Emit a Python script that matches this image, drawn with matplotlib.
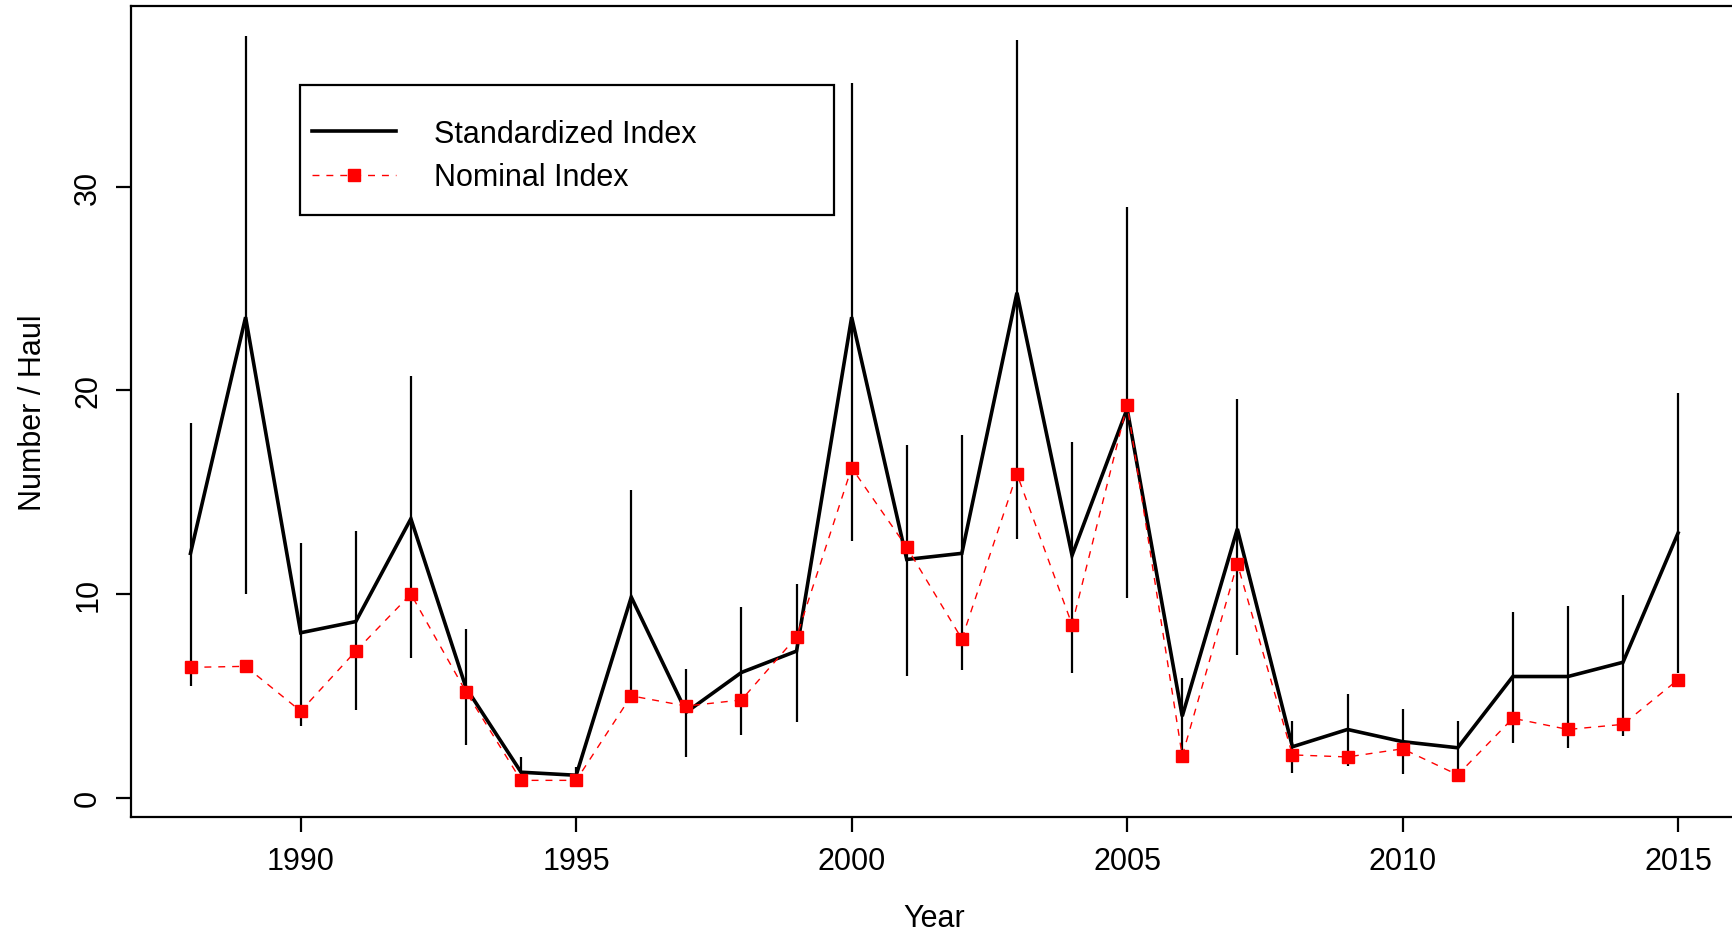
import matplotlib
matplotlib.use("Agg")
import matplotlib.pyplot as plt
from matplotlib.patches import Rectangle

plt.rcParams['font.family'] = ['Liberation Sans', 'DejaVu Sans']

# data
years = list(range(1988, 2016))
std_index = [12.0, 23.6, 8.1, 8.65, 13.7, 5.4, 1.25, 1.1, 9.85, 4.2, 6.15, 7.2, 23.6, 11.7,
             12.0, 24.8, 11.9, 19.1, 4.0, 13.2, 2.5, 3.35, 2.75, 2.45, 5.95, 5.95, 6.65, 13.0]
nom_index = [6.4, 6.45, 4.25, 7.2, 10.0, 5.2, 0.85, 0.85, 5.0, 4.5, 4.8, 7.9, 16.2, 12.3,
             7.8, 15.9, 8.5, 19.3, 2.05, 11.5, 2.1, 2.0, 2.4, 1.12, 3.9, 3.35, 3.6, 5.8]
ci_low = [5.5, 10.0, 3.5, 4.3, 6.85, 2.6, 0.52, 0.6, 5.3, 2.0, 3.1, 3.7, 12.6, 6.0,
          6.25, 12.7, 6.1, 9.8, 1.75, 7.0, 1.2, 1.55, 1.15, 1.1, 2.7, 2.45, 3.05, 6.1]
ci_high = [18.4, 37.4, 12.5, 13.1, 20.7, 8.3, 2.0, 1.5, 15.1, 6.3, 9.35, 10.5, 35.1, 17.3,
           17.8, 37.2, 17.45, 29.0, 5.9, 19.6, 3.75, 5.1, 4.35, 3.75, 9.1, 9.4, 9.95, 19.9]
x_ticks = [1990, 1995, 2000, 2005, 2010, 2015]
y_ticks = [0, 10, 20, 30]

W, H = 1733, 937
fig = plt.figure(figsize=(W / 100, H / 100), dpi=100)
# axes box in pixels: left 131, right 1737.6 (runs off the image), top 7.3, bottom 818
ax = fig.add_axes([131 / W, 1 - 818 / H, (1737.6 - 131) / W, (818 - 7.3) / H])

std_line, = ax.plot(years, std_index, color='black', lw=2.6, solid_joinstyle='miter', zorder=2)
ax.vlines(years, ci_low, ci_high, color='black', lw=1.6, zorder=3)
nom_line, = ax.plot(years, nom_index, color='red', lw=1.0, ls=(0, (5, 5)), marker='s', ms=8,
                    mec='red', mfc='red', zorder=4)

ax.set_xlim(1986.92, 2016.08)
ax.set_ylim(-0.95, 38.87)
ax.set_xticks(x_ticks)
ax.set_yticks(y_ticks)
ax.tick_params(labelsize=22, length=11, width=1.6, direction='out', pad=10)
ax.tick_params(axis='y', labelrotation=90, pad=9)
for lab in ax.get_yticklabels():
    lab.set_va('center')
for s in ax.spines.values():
    s.set_linewidth(1.6)

ax.set_xlabel("Year", fontsize=22, labelpad=19)
ax.set_ylabel("Number / Haul", fontsize=22, labelpad=18)

# legend: R-style box drawn as a rectangle, entries from ax.legend
def ax_xy(px, py):
    return ((px - 131) / (1737.6 - 131), (818 - py) / (818 - 7.3))

x0, y0 = ax_xy(299.6, 216)
x1, y1 = ax_xy(833.6, 86)
ax.add_patch(Rectangle((x0, y0), x1 - x0, y1 - y0, transform=ax.transAxes,
                       fill=False, ec='black', lw=1.6, zorder=5))
lx, ly = ax_xy(312, 156.5)
ax.legend([std_line, nom_line], ["Standardized Index", "Nominal Index"], loc='center left',
          bbox_to_anchor=(lx, ly), frameon=False, fontsize=22, borderpad=0,
          borderaxespad=0, handlelength=2.75, handletextpad=1.25, labelspacing=0.45)

fig.savefig("out.png", dpi=100)
